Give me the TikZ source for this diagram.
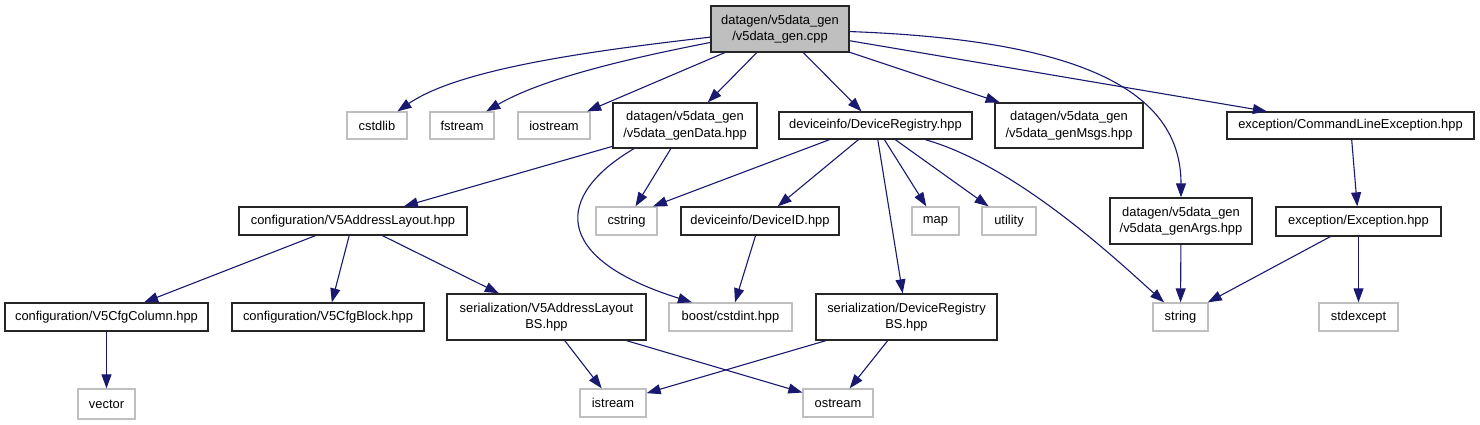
\documentclass[tikz,border=0pt]{standalone}
\usepackage{fontspec}
\setmainfont{Liberation Sans}
\usetikzlibrary{arrows.meta}
\definecolor{edgeblue}{RGB}{25,25,112}
\definecolor{greyline}{RGB}{191,191,191}
\definecolor{rootfill}{RGB}{191,191,191}
\begin{document}
\begin{tikzpicture}[x=1pt,y=-1pt,
  every node/.style={font=\fontsize{12.9}{16.5}\selectfont, inner sep=0pt, align=center},
  file/.style 2 args={draw=black!85, line width=1.3pt, fill=white, minimum width=#1pt, minimum height=#2pt},
  sysfile/.style 2 args={draw=greyline, line width=1.3pt, fill=white, minimum width=#1pt, minimum height=#2pt},
  rootfile/.style 2 args={draw=black!85, line width=1.3pt, fill=rootfill, minimum width=#1pt, minimum height=#2pt},
  edge/.style={draw=edgeblue, line width=1.1pt, -{Triangle[length=14pt,width=10pt]}}]
\useasboundingbox[fill=white] (0,0) rectangle (1480,424);
% row 0
\node[rootfile={138}{46}] (root) at (780,29) {datagen/v5data\_gen\\/v5data\_gen.cpp};
% row 1
\node[sysfile={60}{27}] (cstdlib) at (377,125.5) {cstdlib};
\node[sysfile={64}{27}] (fstream) at (462,125.5) {fstream};
\node[sysfile={72}{27}] (iostream) at (554,125.5) {iostream};
\node[file={144}{45}] (genData) at (685,125.5) {datagen/v5data\_gen\\/v5data\_genData.hpp};
\node[file={193}{27}] (DevReg) at (875.5,125.5) {deviceinfo/DeviceRegistry.hpp};
\node[file={148}{45}] (Msgs) at (1069,125.5) {datagen/v5data\_gen\\/v5data\_genMsgs.hpp};
\node[file={247}{27}] (CmdLine) at (1350.5,125.5) {exception/CommandLineException.hpp};
% row 2
\node[file={228}{28}] (AddrLayout) at (353,221) {configuration/V5AddressLayout.hpp};
\node[sysfile={61}{28}] (cstring) at (626.5,221) {cstring};
\node[file={158}{28}] (DeviceID) at (760,221) {deviceinfo/DeviceID.hpp};
\node[sysfile={47}{28}] (map) at (935.5,221) {map};
\node[sysfile={54}{28}] (utility) at (1009,221) {utility};
\node[file={142}{46}] (Args) at (1181,221) {datagen/v5data\_gen\\/v5data\_genArgs.hpp};
\node[file={165}{29}] (Exception) at (1358.5,221.5) {exception/Exception.hpp};
% row 3
\node[file={203}{28}] (CfgColumn) at (106.5,317) {configuration/V5CfgColumn.hpp};
\node[file={192}{28}] (CfgBlock) at (328,317) {configuration/V5CfgBlock.hpp};
\node[file={199}{46}] (AddrLayoutBS) at (546.5,317) {serialization/V5AddressLayout\\BS.hpp};
\node[sysfile={123}{28}] (boost) at (730.5,317) {boost/cstdint.hpp};
\node[file={181}{46}] (DevRegBS) at (906.5,317) {serialization/DeviceRegistry\\BS.hpp};
\node[sysfile={55}{28}] (string) at (1180.5,317) {string};
\node[sysfile={79}{28}] (stdexcept) at (1358.5,317) {stdexcept};
% row 4
\node[sysfile={57}{30}] (vector) at (106.5,404) {vector};
\node[sysfile={66}{28}] (istream) at (613,403) {istream};
\node[sysfile={70}{28}] (ostream) at (838,403) {ostream};
% edges from root
\draw[edge] (root) .. controls (600,50) and (461,67.5) .. (cstdlib);
\draw[edge] (root) .. controls (620,60) and (540,80) .. (fstream);
\draw[edge] (root) -- (iostream);
\draw[edge] (root) -- (genData);
\draw[edge] (root) -- (DevReg);
\draw[edge] (root) -- (Msgs);
\draw[edge] (root) .. controls (1080,40) and (1181,90) .. (Args);
\draw[edge] (root) -- (CmdLine);
% genData
\draw[edge] (genData) -- (AddrLayout);
\draw[edge] (genData) -- (cstring);
\draw[edge] ([xshift=-51pt]genData.south) .. controls (555,195) and (550,258) .. ([xshift=-38.5pt]boost.north);
% DevReg
\draw[edge] ([xshift=-46pt]DevReg.south) -- ([xshift=26.5pt]cstring.north);
\draw[edge] (DevReg) -- (DeviceID);
\draw[edge] (DevReg) -- (map);
\draw[edge] (DevReg) -- (utility);
\draw[edge] (DevReg) -- (DevRegBS);
\draw[edge] (DevReg) .. controls (1018,166) and (1120,263) .. (string);
% others
\draw[edge] (DeviceID) -- (boost);
\draw[edge] (AddrLayout) -- (CfgColumn);
\draw[edge] (AddrLayout) -- (CfgBlock);
\draw[edge] (AddrLayout) -- (AddrLayoutBS);
\draw[edge] (AddrLayoutBS) -- (istream);
\draw[edge] (AddrLayoutBS) -- (ostream);
\draw[edge] (DevRegBS) -- (istream);
\draw[edge] (DevRegBS) -- (ostream);
\draw[edge] (CfgColumn) -- (vector);
\draw[edge] (Args) -- (string);
\draw[edge] (CmdLine) -- (Exception);
\draw[edge] (Exception) -- (string);
\draw[edge] (Exception) -- (stdexcept);
\end{tikzpicture}
\end{document}
